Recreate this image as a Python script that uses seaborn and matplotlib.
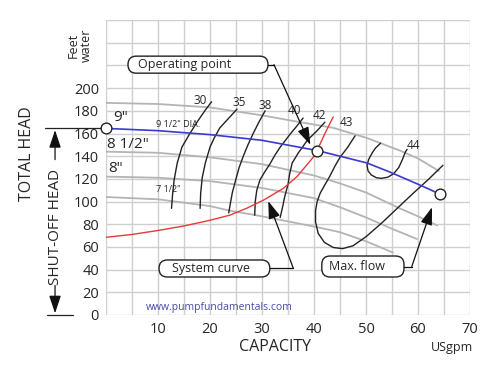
import numpy as np
import matplotlib
matplotlib.use("Agg")
import matplotlib.pyplot as plt
import seaborn as sns
from matplotlib.patches import FancyBboxPatch

# impeller curves (US gpm, feet of water)
dia95_x = [0, 10, 20, 30, 37.3, 43.7, 50.2, 56.5, 60, 64]
dia95_y = [187, 186, 183, 176, 170, 165, 156, 145, 138, 127]
dia90_x = [0, 10, 20, 30, 40.6, 45, 50.2, 54.6, 60.4, 64.2]
dia90_y = [164.5, 162.5, 159, 154, 145, 140, 134, 126, 114.5, 106.6]
dia85_x = [0, 10, 20, 30, 40, 45, 50, 56, 60, 63.7]
dia85_y = [144, 143, 139, 133, 123, 116, 108, 95, 87, 79]
dia80_x = [0, 10, 20, 30, 40, 45, 50, 55, 59.8]
dia80_y = [122, 121, 118, 112, 103, 95, 86, 76, 67]
dia75_x = [0, 10, 20, 23.8, 30, 40, 45, 50, 55.2]
dia75_y = [104, 102, 96, 92, 87, 78, 73, 65, 55]

# system curve
sys_x = [0, 5, 10, 15, 20, 23.8, 27, 30.3, 34.1, 36.7, 38.6, 40.2, 40.6, 42.1, 43.7]
sys_y = [68.5, 71, 74.5, 78.5, 83.5, 88, 94, 101.3, 111.6, 121.9, 132.2, 141, 145, 160, 174.7]

# efficiency curves (%)
eff_labels = ["30", "35", "38", "40", "42", "43", "44"]
eff30_x = [20.3, 19, 17.5, 16, 14.6, 13.7, 13.1, 12.8, 12.6]
eff30_y = [188, 180, 170, 159, 148, 134, 119, 106, 94]
eff35_x = [25.2, 23.5, 21.9, 20.8, 20, 19.1, 18.5, 18.2, 18.1]
eff35_y = [181.5, 173, 165, 156, 148, 134, 121, 107, 94]
eff38_x = [30.6, 29.4, 28.3, 27.3, 26.4, 25.6, 25, 24.3, 23.9, 23.6]
eff38_y = [180, 170, 160, 150, 140, 130, 120, 108, 98, 90]
eff40_x = [37.9, 36.6, 35.5, 34.5, 33.5, 32.5, 31.5, 30.5, 29.6, 29, 28.7, 28.6]
eff40_y = [173.6, 166, 160, 154, 148, 141, 133, 126, 119, 110, 100, 88]
eff42_x = [42.1, 41.3, 40.5, 39.6, 38.7, 37.8, 37, 35.8, 35.3, 35, 34.4, 34, 33.5]
eff42_y = [170, 166, 162, 158, 154, 148, 143, 134, 124, 115, 105, 96, 86]
eff43_x = [47.9, 46.5, 45, 44, 43, 42, 41.2, 40.6, 40.3, 40.3, 40.8, 42, 43.7, 45.5,
           47.5, 50, 53, 56, 59, 62, 64.8]
eff43_y = [158, 148, 139, 131, 122, 114, 107.5, 100, 92, 82, 72, 64, 59.5, 58.5,
           61, 69, 81, 94, 107, 119.5, 132]
eff44_x = [52.8, 51.8, 51.2, 50.5, 50.2, 50.4, 51, 52, 53, 54.2, 55.3, 56.3, 57, 57.6, 57.9]
eff44_y = [151.5, 147, 143, 137, 132, 127, 123.5, 121, 120.5, 121.5, 124.5, 130, 137, 144, 146]

# marked points: shut-off, operating point, max flow
pts_x = [0, 40.6, 64.2]
pts_y = [164.5, 145, 106.6]

xtick_vals = list(range(0, 75, 5))
ytick_vals = list(range(0, 280, 20))

sns.set_style("white")
plt.rcParams['font.family'] = ['Open Sans', 'DejaVu Sans']

fig = plt.figure(figsize=(5, 3.65), dpi=100)
ax = fig.add_axes([0.212, 0.137, 0.728, 0.808])

gray = "#b4b4b4"
for xs, ys in [(dia95_x, dia95_y), (dia85_x, dia85_y), (dia80_x, dia80_y), (dia75_x, dia75_y)]:
    sns.lineplot(x=xs, y=ys, sort=False, estimator=None, color=gray, lw=1.3, ax=ax)

effs = [(eff30_x, eff30_y), (eff35_x, eff35_y), (eff38_x, eff38_y), (eff40_x, eff40_y),
        (eff42_x, eff42_y), (eff43_x, eff43_y), (eff44_x, eff44_y)]
for xs, ys in effs:
    sns.lineplot(x=xs, y=ys, sort=False, estimator=None, color="#222222", lw=1.0, ax=ax)

sns.lineplot(x=sys_x, y=sys_y, sort=False, estimator=None, color="#e8383a", lw=1.0, ax=ax)
sns.lineplot(x=dia90_x, y=dia90_y, sort=False, estimator=None, color="#3a3ad0", lw=1.2, ax=ax)
ax.scatter(pts_x, pts_y, s=60, facecolor="white", edgecolor="#222222", lw=1.0, zorder=5, clip_on=False)

ax.set_xlim(0, 70)
ax.set_ylim(0, 260)
ax.set_xticks(xtick_vals)
ax.set_xticklabels([str(v) if v % 10 == 0 and v > 0 else "" for v in xtick_vals], fontsize=10.5)
ax.set_yticks(ytick_vals)
ax.set_yticklabels([str(v) if v <= 200 else "" for v in ytick_vals], fontsize=10.5)
ax.tick_params(length=0, pad=5)
ax.grid(True, color="#cfcfcf", lw=1.0)
ax.set_axisbelow(True)
for s in ax.spines.values():
    s.set_visible(False)
ax.set_xlabel("")
ax.set_ylabel("")

# diameter labels
ax.text(2.9, 174, '9"', fontsize=11, ha="center", va="center")
ax.text(4.2, 150.7, '8 1/2"', fontsize=11, ha="center", va="center")
ax.text(1.9, 129.5, '8"', fontsize=11, ha="center", va="center")
ax.text(13.9, 168, '9 1/2" DIA.', fontsize=6.5, ha="center", va="center")
ax.text(12, 111, '7 1/2"', fontsize=6.5, ha="center", va="center")

# efficiency labels
eff_lx = [18.1, 25.6, 30.6, 36.3, 41, 46.3, 59.2]
eff_ly = [189.4, 187.7, 185, 180.6, 176, 170, 149]
for lab, lx, ly in zip(eff_labels, eff_lx, eff_ly):
    ax.text(lx, ly, lab, fontsize=8.5, ha="center", va="center")

ax.text(21.7, 7, "www.pumpfundamentals.com", fontsize=7.5, color="#4a4aa8", ha="center", va="center")

# call-out boxes
def callout(x0, x1, y0, y1, tx, label):
    box = FancyBboxPatch((x0, y0), x1 - x0, y1 - y0,
                         boxstyle="round,pad=0,rounding_size=1.6", mutation_aspect=4.6,
                         facecolor="white", edgecolor="#222222", lw=1.0, zorder=6, clip_on=False)
    ax.add_patch(box)
    ax.text(tx, (y0 + y1) / 2, label, fontsize=9, ha="left", va="center", zorder=7)

callout(4.23, 31.15, 213.2, 228.2, 6.2, "Operating point")
callout(10.2, 31.5, 33.5, 48.5, 12.7, "System curve")
callout(41.5, 57.3, 33.5, 52, 42.8, "Max. flow")

arrow = dict(arrowstyle="-|>,head_length=0.9,head_width=0.3", color="#111111", lw=0.9,
             mutation_scale=12, shrinkA=0, shrinkB=0)
ax.plot([31.15, 32.3], [220.7, 220.7], color="#111111", lw=0.9, zorder=6)
ax.annotate("", xy=(39.3, 150), xytext=(32.3, 220.7), arrowprops=arrow, zorder=6)
ax.plot([31.5, 36], [41.4, 41.4], color="#111111", lw=0.9, zorder=6)
ax.annotate("", xy=(31.2, 100.4), xytext=(36, 41.4), arrowprops=arrow, zorder=6)
ax.plot([57.3, 58.8], [42.7, 42.7], color="#111111", lw=0.9, zorder=6)
ax.annotate("", xy=(62.7, 95), xytext=(58.8, 42.7), arrowprops=arrow, zorder=6)

# axis titles and shut-off head markers
ax.text(-15.2, 142.7, "TOTAL HEAD", fontsize=11.5, rotation=90, ha="center", va="center")
ax.text(-9.8, 78, "SHUT-OFF HEAD", fontsize=11, rotation=90, ha="center", va="center")
ax.text(-5, 238, "Feet\nwater", fontsize=9, rotation=90, ha="center", va="center", linespacing=1.0)
ax.text(32.5, -28.2, "CAPACITY", fontsize=11.5, ha="center", va="center")
ax.text(66.5, -29, "USgpm", fontsize=9, ha="center", va="center")

ax.plot([-11.7, 0], [164.5, 164.5], color="#222222", lw=0.9, clip_on=False)
ax.plot([-11.3, -6.3], [0, 0], color="#222222", lw=0.9, clip_on=False)
ax.annotate("", xy=(-9.8, 163), xytext=(-9.8, 137), arrowprops=arrow, annotation_clip=False)
ax.annotate("", xy=(-9.8, 1.5), xytext=(-9.8, 26), arrowprops=arrow, annotation_clip=False)

fig.savefig("out.png", dpi=100)
